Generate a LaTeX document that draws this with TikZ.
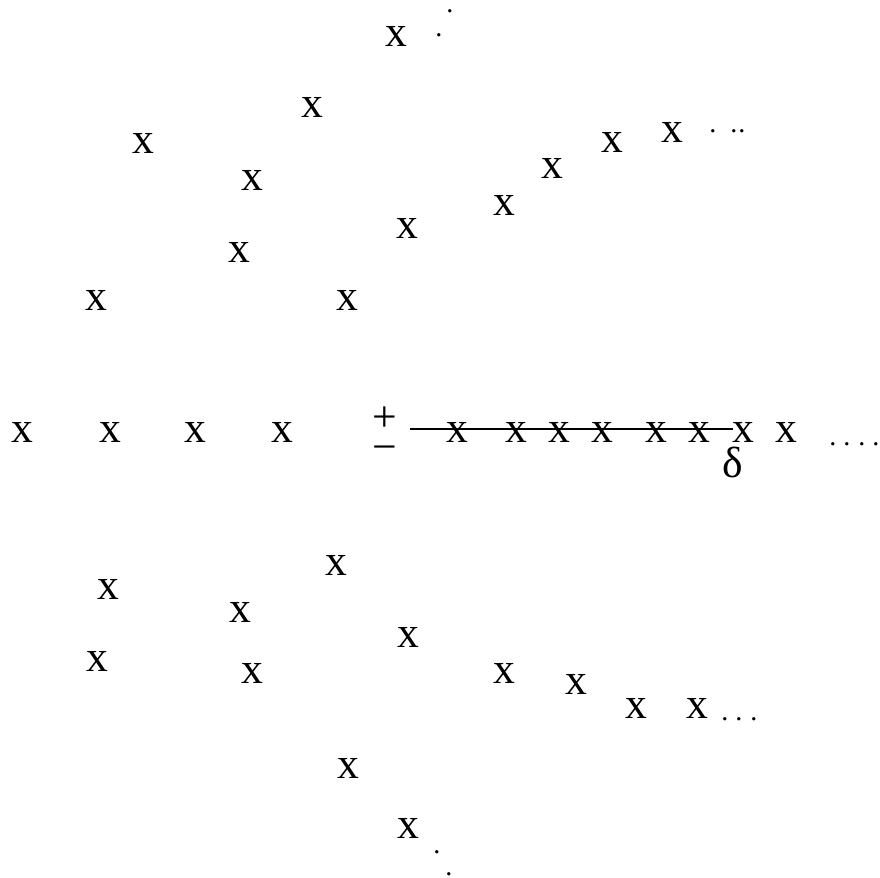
\documentclass[tikz,border=0pt]{standalone}
\usepackage{fontspec}
\setmainfont{Liberation Serif}
\usepackage{tikz}
\usetikzlibrary{calc}

\begin{document}
\begin{tikzpicture}[x=0.025cm,y=-0.025cm,
    xpt/.style={font=\fontsize{31}{37}\selectfont,inner sep=0pt},
    dotpt/.style={font=\fontsize{20}{24}\selectfont,inner sep=0pt,yshift=-3*0.025cm}]
  \useasboundingbox (0,0) rectangle (880,878);

  % upper arm
  \node[xpt] (u1) at (396,37) {x};
  \node[xpt] (u2) at (312,108) {x};
  \node[xpt] (u3) at (143,144) {x};
  \node[xpt] (u4) at (252,180) {x};
  \node[xpt] (u5) at (239,252) {x};
  \node[xpt] (u6) at (96,300) {x};
  \node[xpt] (u7) at (347,300) {x};
  \node[xpt] (u8) at (407,228) {x};
  \node[xpt] (u9) at (504,205) {x};
  \node[xpt] (u10) at (552,168) {x};
  \node[xpt] (u11) at (612,143) {x};
  \node[xpt] (u12) at (672,133) {x};
  \node[dotpt] (ut1) at (450,8) {.};
  \node[dotpt] (ut2) at (439,32) {.};
  \node[dotpt] (ur1) at (713,128) {.};
  \node[dotpt] (ur2) at (734,128) {.};
  \node[dotpt] (ur3) at (742,128) {.};

  % real axis
  \node[xpt] (m1) at (22,432) {x};
  \node[xpt] (m2) at (110,432) {x};
  \node[xpt] (m3) at (195,432) {x};
  \node[xpt] (m4) at (282,432) {x};
  \node[xpt] (pl) at (385,419) {+};
  \node[xpt] (mi) at (385,454) {−};
  \node[xpt] (m5) at (457,432) {x};
  \node[xpt] (m6) at (516,432) {x};
  \node[xpt] (m7) at (559,432) {x};
  \node[xpt] (m8) at (602,432) {x};
  \node[xpt] (m9) at (656,432) {x};
  \node[xpt] (m10) at (699,432) {x};
  \node[xpt] (m11) at (743,432) {x};
  \node[xpt] (m12) at (786,432) {x};
  \node[xpt] (dl) at (733,462) {δ};
  \node[dotpt] (mr1) at (833,441) {.};
  \node[dotpt] (mr2) at (847,441) {.};
  \node[dotpt] (mr3) at (862,441) {.};
  \node[dotpt] (mr4) at (876,441) {.};
  \coordinate (ls) at (410,429);
  \coordinate (le) at (733,429);
  \draw[line width=0.8pt] (ls) -- (le);

  % lower arm
  \node[xpt] (b1) at (336,565) {x};
  \node[xpt] (b2) at (108,589) {x};
  \node[xpt] (b3) at (240,612) {x};
  \node[xpt] (b4) at (408,637) {x};
  \node[xpt] (b5) at (97,661) {x};
  \node[xpt] (b6) at (252,673) {x};
  \node[xpt] (b7) at (504,673) {x};
  \node[xpt] (b8) at (576,684) {x};
  \node[xpt] (b9) at (636,708) {x};
  \node[xpt] (b10) at (697,708) {x};
  \node[xpt] (b11) at (348,768) {x};
  \node[xpt] (b12) at (408,828) {x};
  \node[dotpt] (br1) at (725,716) {.};
  \node[dotpt] (br2) at (739,716) {.};
  \node[dotpt] (br3) at (754,716) {.};
  \node[dotpt] (bt1) at (437,849) {.};
  \node[dotpt] (bt2) at (449,871) {.};
\end{tikzpicture}
\end{document}
